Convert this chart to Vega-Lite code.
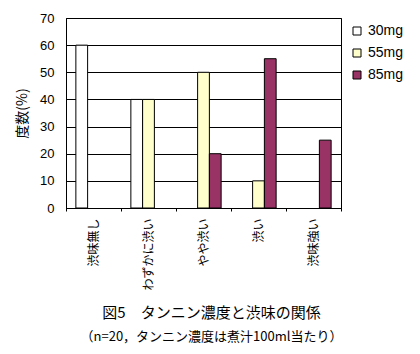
{
  "$schema": "https://vega.github.io/schema/vega-lite/v6.json",
  "width": 275,
  "height": 190,
  "autosize": {"type": "none"},
  "padding": {"left": 66, "top": 18, "right": 79, "bottom": 146},
  "background": "white",
  "config": {
    "font": "Noto Sans CJK JP",
    "view": {"stroke": "black", "strokeWidth": 1}
  },
  "title": {
    "text": "図5　タンニン濃度と渋味の関係",
    "subtitle": "（n=20，タンニン濃度は煮汁100ml当たり）",
    "orient": "bottom",
    "anchor": "middle",
    "frame": "group",
    "offset": 16,
    "fontSize": 15,
    "fontWeight": "normal",
    "color": "black",
    "subtitleFontSize": 13,
    "subtitleColor": "black",
    "subtitlePadding": 10,
    "font": "Noto Sans CJK JP",
    "subtitleFont": "Noto Sans CJK JP",
    "dx": 8
  },
  "data": {
    "values": [
      {"category": "渋味無し", "dose": "30mg", "value": 60},
      {"category": "渋味無し", "dose": "55mg", "value": 0},
      {"category": "渋味無し", "dose": "85mg", "value": 0},
      {"category": "わずかに渋い", "dose": "30mg", "value": 40},
      {"category": "わずかに渋い", "dose": "55mg", "value": 40},
      {"category": "わずかに渋い", "dose": "85mg", "value": 0},
      {"category": "やや渋い", "dose": "30mg", "value": 0},
      {"category": "やや渋い", "dose": "55mg", "value": 50},
      {"category": "やや渋い", "dose": "85mg", "value": 20},
      {"category": "渋い", "dose": "30mg", "value": 0},
      {"category": "渋い", "dose": "55mg", "value": 10},
      {"category": "渋い", "dose": "85mg", "value": 55},
      {"category": "渋味強い", "dose": "30mg", "value": 0},
      {"category": "渋味強い", "dose": "55mg", "value": 0},
      {"category": "渋味強い", "dose": "85mg", "value": 25}
    ]
  },
  "transform": [{"filter": "datum.value > 0"}],
  "mark": {"type": "bar", "stroke": "black", "strokeWidth": 1},
  "encoding": {
    "x": {
      "field": "category",
      "type": "nominal",
      "sort": ["渋味無し", "わずかに渋い", "やや渋い", "渋い", "渋味強い"],
      "scale": {"paddingInner": 0, "paddingOuter": 0},
      "axis": {
        "title": null,
        "labelAngle": -90,
        "labelFontSize": 12,
        "labelColor": "black",
        "labelPadding": 7,
        "tickBand": "extent",
        "tickSize": 3,
        "tickColor": "black",
        "domainColor": "black",
        "grid": false
      }
    },
    "xOffset": {
      "field": "dose",
      "type": "nominal",
      "sort": ["30mg", "55mg", "85mg"],
      "scale": {"paddingOuter": 0.84, "paddingInner": 0}
    },
    "y": {
      "field": "value",
      "type": "quantitative",
      "scale": {"domain": [0, 70], "nice": false},
      "axis": {
        "title": "度数(%)",
        "titleFontSize": 14,
        "titleFontWeight": "normal",
        "titleColor": "black",
        "titlePadding": 10,
        "values": [0, 10, 20, 30, 40, 50, 60, 70],
        "ticks": false,
        "labelPadding": 12,
        "labelFontSize": 13,
        "labelColor": "black",
        "labelFont": "Liberation Sans",
        "grid": true,
        "gridColor": "black",
        "gridOpacity": 1,
        "domainColor": "black"
      }
    },
    "fill": {
      "field": "dose",
      "type": "nominal",
      "scale": {"domain": ["30mg", "55mg", "85mg"], "range": ["#ffffff", "#ffffcc", "#993366"]},
      "legend": {
        "title": null,
        "orient": "none",
        "legendX": 284,
        "legendY": 6,
        "symbolType": "square",
        "symbolSize": 64,
        "symbolStrokeColor": "black",
        "symbolStrokeWidth": 1,
        "labelFontSize": 14,
        "labelFont": "Liberation Sans",
        "labelColor": "black",
        "rowPadding": 8,
        "labelOffset": 4
      }
    }
  }
}
